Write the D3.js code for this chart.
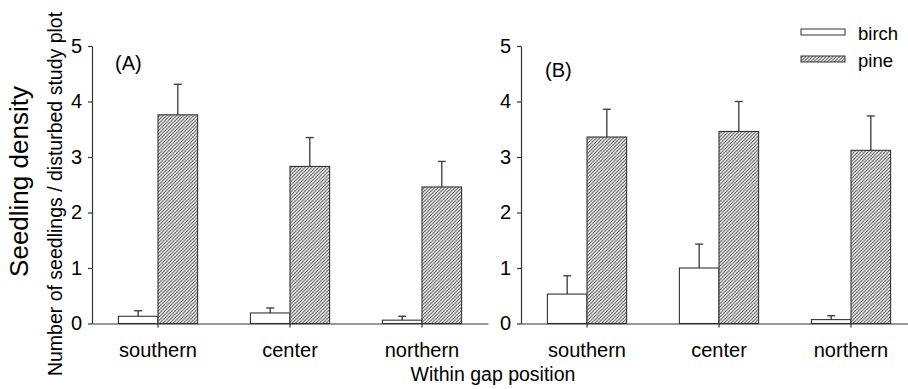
<!DOCTYPE html>
<html>
<head>
<meta charset="utf-8">
<script src="https://cdn.jsdelivr.net/npm/d3@7"></script>
<style>
  body { margin: 0; background: #fff; }
  svg { display: block; font-family: "Liberation Sans", Arial, sans-serif; }
</style>
</head>
<body>
<div id="chart"></div>
<script>
(() => {
    const width = 908, height = 389;

    const positions = ["southern", "center", "northern"];
    const species = ["birch", "pine"];
    const yTicks = [0, 1, 2, 3, 4, 5];

    // panel A
    const birchA = [0.13, 0.19, 0.06];
    const birchErrA = [0.10, 0.09, 0.07];
    const pineA = [3.76, 2.83, 2.46];
    const pineErrA = [0.55, 0.52, 0.46];

    // panel B
    const birchB = [0.53, 1.00, 0.07];
    const birchErrB = [0.33, 0.43, 0.07];
    const pineB = [3.36, 3.46, 3.12];
    const pineErrB = [0.50, 0.54, 0.62];

    const panels = [
        { label: "(A)", birch: birchA, birchErr: birchErrA, pine: pineA, pineErr: pineErrA,
          x0: 92, x1: 488, labelX: 115, labelY: 70 },
        { label: "(B)", birch: birchB, birchErr: birchErrB, pine: pineB, pineErr: pineErrB,
          x0: 521, x1: 917, labelX: 545, labelY: 77 }
    ];

    const svg = d3.select("#chart").append("svg")
        .attr("width", width)
        .attr("height", height);

    const pat = svg.append("defs").append("pattern")
        .attr("id", "hatch")
        .attr("patternUnits", "userSpaceOnUse")
        .attr("width", 3.4)
        .attr("height", 3.4);
    pat.append("rect").attr("width", 3.4).attr("height", 3.4).attr("fill", "#fff");
    pat.append("path")
        .attr("d", "M-1,1 l2,-2 M0,3.4 l3.4,-3.4 M2.4,4.4 l2,-2")
        .attr("stroke", "#333")
        .attr("stroke-width", 0.9);

    const y = d3.scaleLinear().domain([0, 5]).range([323.5, 46]);
    const ink = "#333";

    panels.forEach(p => {
        const x = d3.scaleBand().domain(positions).range([p.x0, p.x1])
            .paddingInner(0.4).paddingOuter(0.2);
        const xs = d3.scaleBand().domain(species).range([0, x.bandwidth()]);

        const g = svg.append("g");

        // y axis
        const ya = g.append("g")
            .attr("transform", `translate(${p.x0},0)`)
            .call(d3.axisLeft(y).tickValues(yTicks).tickFormat(d3.format("d"))
                .tickSize(4).tickSizeOuter(0).tickPadding(6));
        ya.selectAll("text").style("font-size", "20px").attr("fill", "#000")
            .style("font-family", "Liberation Sans, Arial, sans-serif");
        ya.selectAll("line, path").attr("stroke", ink).attr("stroke-width", 1.2);

        // bars
        positions.forEach((pos, i) => {
            const vals = { birch: p.birch[i], pine: p.pine[i] };
            const errs = { birch: p.birchErr[i], pine: p.pineErr[i] };
            species.forEach(s => {
                const bx = x(pos) + xs(s);
                const cx = bx + xs.bandwidth() / 2;
                // error bar (upper only)
                g.append("line")
                    .attr("x1", cx).attr("x2", cx)
                    .attr("y1", y(vals[s])).attr("y2", y(vals[s] + errs[s]))
                    .attr("stroke", "#444").attr("stroke-width", 1.4);
                g.append("line")
                    .attr("x1", cx - 4).attr("x2", cx + 4)
                    .attr("y1", y(vals[s] + errs[s])).attr("y2", y(vals[s] + errs[s]))
                    .attr("stroke", "#444").attr("stroke-width", 1.4);
                g.append("rect")
                    .attr("x", bx)
                    .attr("y", y(vals[s]))
                    .attr("width", xs.bandwidth())
                    .attr("height", y(0) - y(vals[s]))
                    .attr("fill", s === "pine" ? "url(#hatch)" : "#fff")
                    .attr("stroke", ink)
                    .attr("stroke-width", 1.1);
            });
        });

        // x axis
        const xa = g.append("g")
            .attr("transform", `translate(0,${y(0)})`)
            .call(d3.axisBottom(x).tickSize(4).tickSizeOuter(0).tickPadding(15));
        xa.selectAll("text").style("font-size", "20px").attr("fill", "#000")
            .style("font-family", "Liberation Sans, Arial, sans-serif");
        xa.selectAll("line, path").attr("stroke", ink).attr("stroke-width", 1.2);

        g.append("text")
            .attr("x", p.labelX).attr("y", p.labelY)
            .style("font-size", "20px")
            .text(p.label);
    });

    // axis titles
    svg.append("text")
        .attr("transform", "translate(27.5,181.5) rotate(-90)")
        .attr("text-anchor", "middle")
        .style("font-size", "26px")
        .text("Seedling density");

    svg.append("text")
        .attr("transform", "translate(62,194) rotate(-90)")
        .attr("text-anchor", "middle")
        .style("font-size", "19.5px")
        .text("Number of seedlings / disturbed study plot");

    svg.append("text")
        .attr("x", 493).attr("y", 381)
        .attr("text-anchor", "middle")
        .style("font-size", "19.5px")
        .text("Within gap position");

    // legend
    const legend = svg.append("g").attr("transform", "translate(801,0)");
    species.forEach((s, i) => {
        const ly = 29 + i * 27;
        legend.append("rect")
            .attr("x", 0).attr("y", ly)
            .attr("width", 44).attr("height", 6)
            .attr("fill", s === "pine" ? "url(#hatch)" : "#fff")
            .attr("stroke", ink).attr("stroke-width", 1);
        legend.append("text")
            .attr("x", 57).attr("y", ly + 11)
            .style("font-size", "18.5px")
            .text(s);
    });
})();
</script>
</body>
</html>
